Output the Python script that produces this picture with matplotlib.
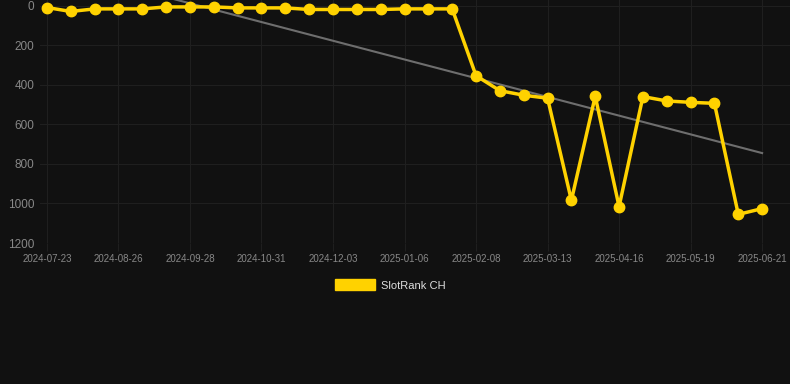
import numpy as np
import matplotlib
matplotlib.use('Agg')
import matplotlib.pyplot as plt
from matplotlib.patches import Patch

plt.rcParams['font.family'] = ['Liberation Sans', 'DejaVu Sans']

# rank per data point (31 points, every third one has a date label)
ranks = [8, 28, 15, 15, 15, 5, 5, 5, 10, 10, 10, 18, 18, 18, 18, 15, 15, 15,
         353, 429, 452, 467, 984, 457, 1016, 459, 481, 488, 493, 1055, 1026]
tick_labels = ['2024-07-23', '2024-08-26', '2024-09-28', '2024-10-31', '2024-12-03',
               '2025-01-06', '2025-02-08', '2025-03-13', '2025-04-16', '2025-05-19',
               '2025-06-21']

bg = '#111111'
gold = '#FFD200'
grid = '#1f1f1f'
txt = '#888888'

x = np.arange(len(ranks))
y = np.array(ranks)

fig = plt.figure(figsize=(7.9, 3.84), dpi=100, facecolor=bg)
ax = fig.add_axes([40/790, 1 - 243/384, 750/790, 243/384])
ax.set_facecolor(bg)

#trend line from a linear fit of the ranks
k, b = np.polyfit(x, y, 1)
ax.plot(x, k*x + b, color='#6e6e6e', lw=1.5, zorder=2)

ax.plot(x, y, color=gold, lw=2.5, marker='o', ms=7.5, zorder=3)

ax.set_xlim(-0.29, 31.17)
ax.set_ylim(1200, -30)
ax.set_yticks([0, 200, 400, 600, 800, 1000, 1200])
ax.set_xticks(x[::3])
ax.set_xticklabels(tick_labels)

ax.grid(True, color=grid, lw=0.8)
for s in ax.spines.values():
    s.set_visible(False)
ax.tick_params(axis='y', length=0, pad=4, labelsize=8.5, labelcolor=txt)
ax.tick_params(axis='x', length=6, color=grid, pad=2, labelsize=7, labelcolor=txt)

fig.legend(handles=[Patch(facecolor=gold, edgecolor=gold, label='SlotRank CH')],
           loc='center', bbox_to_anchor=(0.494, 1 - 285/384), frameon=False,
           fontsize=8, labelcolor='#dddddd', handlelength=3.6, handleheight=1.1,
           handletextpad=0.6)

fig.savefig('out.png', dpi=100, facecolor=bg)
